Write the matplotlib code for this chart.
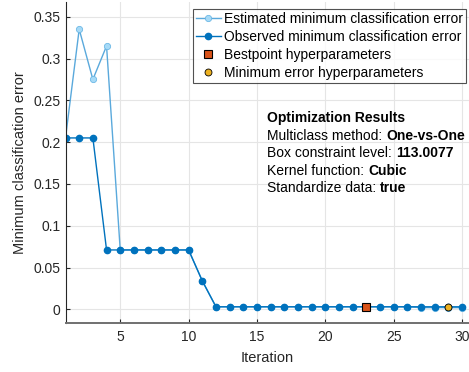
import matplotlib
matplotlib.use("Agg")
import matplotlib.pyplot as plt

plt.rcParams['font.family'] = ['Liberation Sans', 'DejaVu Sans']

iterations = list(range(1, 31))
estimated = [0.205, 0.335, 0.275, 0.315, 0.071, 0.071, 0.071, 0.071, 0.071, 0.071,
             0.034, 0.003, 0.003, 0.003, 0.003, 0.003, 0.003, 0.003, 0.003, 0.003,
             0.003, 0.003, 0.003, 0.003, 0.003, 0.003, 0.002, 0.002, 0.002, 0.002]
observed = [0.205, 0.205, 0.205, 0.071, 0.071, 0.071, 0.071, 0.071, 0.071, 0.071,
            0.034, 0.003, 0.003, 0.003, 0.003, 0.003, 0.003, 0.003, 0.003, 0.003,
            0.003, 0.003, 0.003, 0.003, 0.003, 0.003, 0.003, 0.003, 0.003, 0.003]
best_iter, best_val = 23, 0.003
minerr_iter, minerr_val = 29, 0.003

fig, ax = plt.subplots(figsize=(4.69, 3.72), dpi=100)
fig.subplots_adjust(left=0.1397, right=1.0, top=0.9946, bottom=0.1317)

ax.plot(iterations, estimated, color='#5aa9dc', marker='o', markersize=4.5,
        markerfacecolor='#a6daf7', markeredgecolor='#6cb8e6', markeredgewidth=0.6,
        linewidth=1.0, label='Estimated minimum classification error')
ax.plot(iterations, observed, color='#0072BD', marker='o', markersize=4.5,
        markerfacecolor='#0072BD', markeredgecolor='#0072BD',
        linewidth=1.0, label='Observed minimum classification error')
ax.plot([best_iter], [best_val], linestyle='none', marker='s', markersize=6,
        markerfacecolor='#D95319', markeredgecolor='black', markeredgewidth=0.8,
        label='Bestpoint hyperparameters')
ax.plot([minerr_iter], [minerr_val], linestyle='none', marker='o', markersize=5,
        markerfacecolor='#EDB120', markeredgecolor='black', markeredgewidth=0.6,
        label='Minimum error hyperparameters')

ax.set_xlim(1, 30.5)
ax.set_ylim(-0.0164, 0.3676)
ax.set_xticks([5, 10, 15, 20, 25, 30])
ax.set_yticks([0, 0.05, 0.1, 0.15, 0.2, 0.25, 0.3, 0.35])
ax.set_yticklabels(['0', '0.05', '0.1', '0.15', '0.2', '0.25', '0.3', '0.35'])
ax.grid(True, color='#e5e5e5', linewidth=0.8)
ax.set_axisbelow(True)
for s in ['top', 'right']:
    ax.spines[s].set_visible(False)
ax.spines['left'].set_color('#262626')
ax.spines['left'].set_linewidth(0.8)
ax.spines['bottom'].set_color('#707070')
ax.spines['bottom'].set_linewidth(1.4)
ax.tick_params(labelsize=10, colors='#262626', direction='in', length=3, width=0.8)
ax.tick_params(axis='x', pad=5)
ax.set_xlabel('Iteration', fontsize=10.5, color='#262626', labelpad=5)
ax.set_ylabel('Minimum classification error', fontsize=10.5, color='#262626', labelpad=5)

leg = ax.legend(loc='upper right', bbox_to_anchor=(466 / 469, 1 - 9 / 372),
                bbox_transform=fig.transFigure, fontsize=10,
                frameon=True, fancybox=False, edgecolor='#262626',
                handlelength=1.8, handletextpad=0.25, borderpad=0.2,
                labelspacing=0.3, borderaxespad=0.0)
leg.get_frame().set_linewidth(0.8)

tx = 0.4994
ty = 0.638
dy = 0.0545
ax.text(tx, ty, 'Optimization Results', transform=ax.transAxes, fontsize=10,
        fontweight='bold', va='center')
lines = [('Multiclass method:', 'One-vs-One'),
         ('Box constraint level:', '113.0077'),
         ('Kernel function:', 'Cubic'),
         ('Standardize data:', 'true')]
for i, (label, value) in enumerate(lines):
    y = ty - dy * (i + 1)
    t = ax.text(tx, y, label, transform=ax.transAxes, fontsize=10, va='center')
    ax.annotate(value, xycoords=t, xy=(1, 0.5), xytext=(3, 0),
                textcoords='offset points', va='center', fontsize=10,
                fontweight='bold')

fig.savefig('out.png', dpi=100)
